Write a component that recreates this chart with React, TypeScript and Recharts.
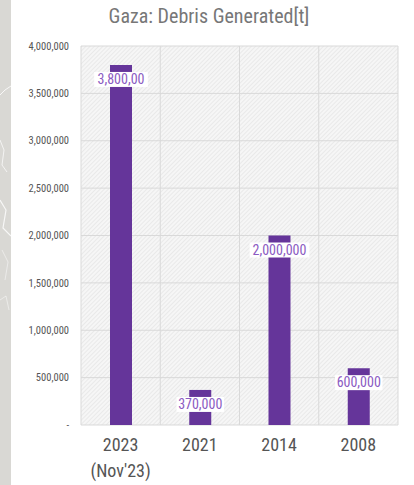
import { BarChart, Bar, XAxis, YAxis, CartesianGrid, LabelList } from 'recharts';

const years = ['2023', '2021', '2014', '2008'];
const subLabels = ["(Nov'23)", '', '', ''];
const debris = [3800000, 370000, 2000000, 600000];
const valueLabels = ['3,800,00', '370,000', '2,000,000', '600,000'];
const yTicks = [0, 500000, 1000000, 1500000, 2000000, 2500000, 3000000, 3500000, 4000000];

const data = years.map((year, i) => ({
  year,
  sub: subLabels[i],
  debris: debris[i],
  label: valueLabels[i],
}));

const FONT = '"Roboto Condensed", "Liberation Sans Narrow", "DejaVu Sans Condensed", Roboto, sans-serif';

function YearTick({ x, y, payload, index }: any) {
  return (
    <g>
      <text x={x} y={y + 18} textAnchor="middle" fontSize={18} fill="#555" fontFamily={FONT}>
        {payload.value}
      </text>
      {subLabels[index] && (
        <text x={x} y={y + 44} textAnchor="middle" fontSize={18} fill="#555" fontFamily={FONT}>
          {subLabels[index]}
        </text>
      )}
    </g>
  );
}

function ValueLabel({ x, y, width, value }: any) {
  const cx = x + width / 2;
  const w = String(value).length * 6.2 + 4;
  return (
    <g>
      <rect x={cx - w / 2} y={y + 7} width={w} height={15} fill="#fff" />
      <text x={cx} y={y + 19} textAnchor="middle" fontSize={14} fill="#8b5bc2" fontFamily={FONT}>
        {value}
      </text>
    </g>
  );
}

// Left strip with white cracks, like the page background
function SideStrip() {
  return (
    <svg width={11} height={485} style={{ position: 'absolute', left: 0, top: 0 }}>
      <rect width={11} height={485} fill="#d9d8d4" />
      <path d="M0 95 L5 90 L11 86" stroke="#fff" strokeWidth={1} fill="none" opacity={0.8} />
      <path d="M0 140 L4 150 L2 165 L7 172" stroke="#fff" strokeWidth={1} fill="none" opacity={0.7} />
      <path d="M0 200 L6 210 L3 228 L11 236" stroke="#fff" strokeWidth={1.2} fill="none" opacity={0.8} />
      <path d="M2 250 L8 262 L5 280" stroke="#fff" strokeWidth={0.8} fill="none" opacity={0.6} />
      <path d="M0 300 L6 296 L9 310" stroke="#fff" strokeWidth={0.8} fill="none" opacity={0.6} />
    </svg>
  );
}

export default function App() {
  return (
    <div
      style={{
        position: 'absolute',
        left: 0,
        top: 0,
        width: 414,
        height: 485,
        background: '#fff',
        fontFamily: FONT,
      }}
    >
      <SideStrip />
      <div
        style={{
          position: 'absolute',
          left: 0,
          top: 4,
          width: 418,
          textAlign: 'center',
          fontSize: 20,
          color: '#777',
        }}
      >
        Gaza: Debris Generated[t]
      </div>
      <BarChart
        width={414}
        height={485}
        data={data}
        margin={{ top: 46, right: 16, left: 0, bottom: 0 }}
        style={{ position: 'absolute', left: 0, top: 0 }}
      >
        <defs>
          <pattern id="hatch" width={3} height={3} patternUnits="userSpaceOnUse" patternTransform="rotate(45)">
            <rect width={3} height={3} fill="#f6f6f6" />
            <line x1={0} y1={0} x2={0} y2={3} stroke="#dcdcdc" strokeWidth={1} />
          </pattern>
        </defs>
        <CartesianGrid
          stroke="#d9d9d9"
          fill="url(#hatch)"
          verticalCoordinatesGenerator={({ offset }: any) =>
            years.map((_, i) => offset.left + (i * offset.width) / years.length).concat(offset.left + offset.width)
          }
        />
        <XAxis dataKey="year" height={60} axisLine={false} tickLine={false} interval={0} tick={<YearTick />} />
        <YAxis
          width={81}
          domain={[0, 4000000]}
          ticks={yTicks}
          interval={0}
          axisLine={false}
          tickLine={false}
          tickMargin={6}
          tick={{ fontSize: 10.5, fill: '#555', fontFamily: FONT }}
          tickFormatter={(v: number) => (v === 0 ? '-' : v.toLocaleString('en-US'))}
        />
        <Bar dataKey="debris" fill="#65359a" barSize={22} isAnimationActive={false}>
          <LabelList dataKey="label" content={<ValueLabel />} />
        </Bar>
      </BarChart>
    </div>
  );
}
